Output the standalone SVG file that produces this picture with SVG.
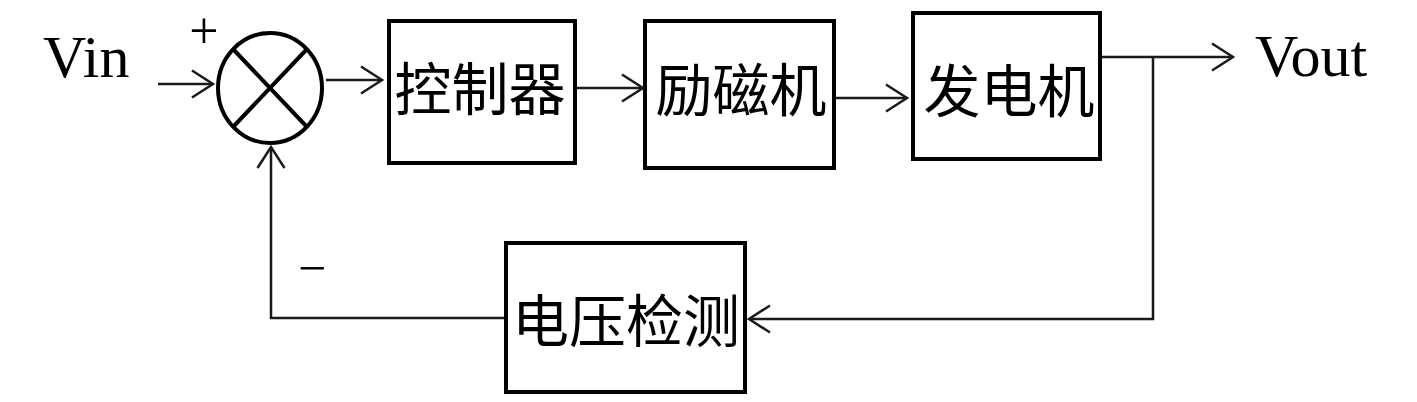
<svg xmlns="http://www.w3.org/2000/svg" width="1417" height="402" viewBox="0 0 1417 402">
<style>
.box{fill:#fff;stroke:#000;stroke-width:4}
.cn{font-family:"Noto Sans CJK SC","Noto Sans",sans-serif;font-size:57px;fill:#000;text-anchor:middle}
.lat{font-family:"Liberation Serif","Times New Roman",serif;fill:#000}
.wire{fill:none;stroke:#1a1a1a;stroke-width:2.5}
</style>
<defs>
<marker id="arr" markerUnits="userSpaceOnUse" markerWidth="30" markerHeight="34" refX="24" refY="15" orient="auto" viewBox="0 0 30 30" overflow="visible">
<path d="M3 1.5 L24 15 L3 28.5" fill="none" stroke="#1a1a1a" stroke-width="2.5"/>
</marker>
</defs>
<rect width="1417" height="402" fill="#fff"/>
<g id="vin"><text class="lat" x="43" y="77" font-size="60">Vin</text></g>
<g id="vout"><text class="lat" x="1255" y="76" font-size="60">Vout</text></g>
<g id="plus"><text class="lat" x="204" y="48" font-size="52" text-anchor="middle">+</text></g>
<g id="minus"><text class="lat" x="312" y="285" font-size="50" text-anchor="middle">−</text></g>
<g id="sum">
<ellipse cx="270" cy="88" rx="52" ry="55" fill="#fff" stroke="#000" stroke-width="4"/>
<line x1="233" y1="49" x2="307" y2="127" stroke="#000" stroke-width="4"/>
<line x1="307" y1="49" x2="233" y2="127" stroke="#000" stroke-width="4"/>
</g>
<g id="controller"><rect class="box" x="389" y="21" width="186" height="142"/><text class="cn" x="480" y="110">控制器</text></g>
<g id="exciter"><rect class="box" x="645" y="21" width="189" height="147"/><text class="cn" x="741" y="111">励磁机</text></g>
<g id="generator"><rect class="box" x="913" y="13" width="187" height="146"/><text class="cn" x="1009" y="112">发电机</text></g>
<g id="detector"><rect class="box" x="506" y="243" width="239" height="149"/><text class="cn" x="626" y="342" font-size="55">电压检测</text></g>
<g id="connectors">
<path class="wire" d="M158 84 H213" marker-end="url(#arr)"/>
<path class="wire" d="M326 80 H382" marker-end="url(#arr)"/>
<path class="wire" d="M577 88 H643" marker-end="url(#arr)"/>
<path class="wire" d="M836 98 H907" marker-end="url(#arr)"/>
<path class="wire" d="M1102 57 H1233" marker-end="url(#arr)"/>
<path class="wire" d="M1153 57 V319 H749" marker-end="url(#arr)"/>
<path class="wire" d="M504 318 H271 V147" marker-end="url(#arr)"/>
</g>
</svg>
